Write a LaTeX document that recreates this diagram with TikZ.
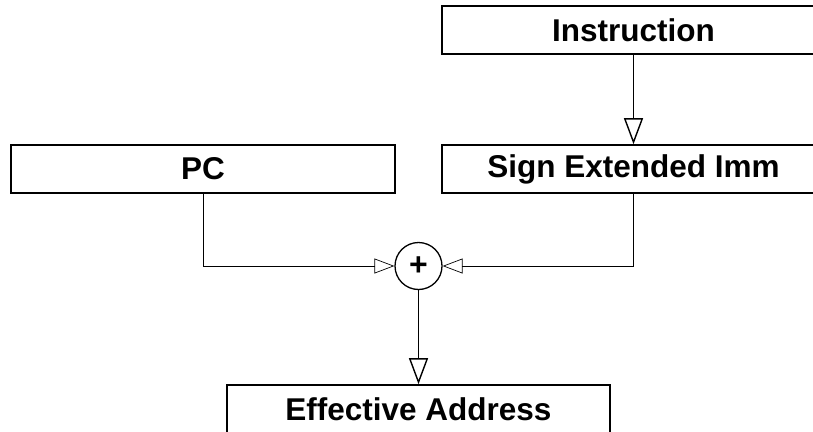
\documentclass[tikz,border=0pt]{standalone}
\usepackage{fontspec}
\setmainfont{Liberation Sans}
\usepackage{tikz}
\usetikzlibrary{arrows.meta}
\tikzstyle{block} = [rectangle, draw, line width=1.6pt, minimum width=383pt, minimum height=48pt, inner sep=0pt, font=\bfseries\fontsize{31.5}{36}\selectfont]
\tikzstyle{adder} = [circle, draw, line width=1.3pt, minimum size=47pt, inner sep=0pt, font=\bfseries\fontsize{32}{34}\selectfont]
\tikzstyle{thinarrow} = [line width=0.7pt, -{Triangle[open, length=20pt, width=15pt]}]
\tikzstyle{arrow} = [line width=1.4pt, -{Triangle[open, length=26pt, width=19pt]}]

\begin{document}
\begin{tikzpicture}[x=1pt,y=-1pt]
\useasboundingbox (0,0) rectangle (813,431);
\node [block] (instr) at (633.5,30) {Instruction};
\node [block] (sext) at (633.5,169) {Sign Extended Imm};
\node [block, minimum width=384pt] (pc) at (203,169) {PC};
\node [adder] (add) at (418.5,266) {+};
\node [block] (ea) at (418.5,409) {Effective Address};

\draw [arrow] (instr) to (sext);
\draw [thinarrow] (pc.south) |- (add.west);
\draw [thinarrow] (sext.south) |- (add.east);
\draw [arrow] (add) to (ea);
\end{tikzpicture}
\end{document}
